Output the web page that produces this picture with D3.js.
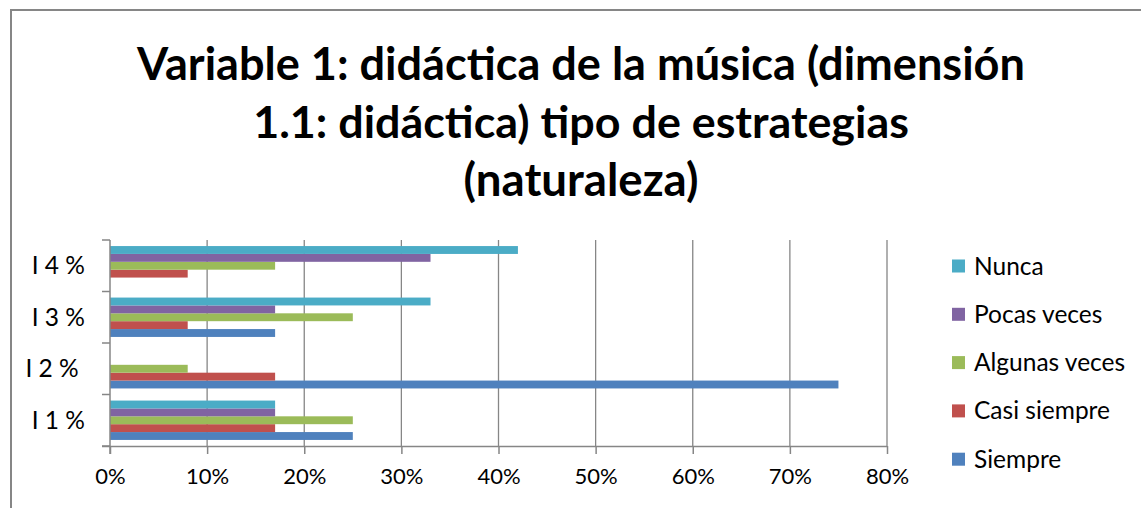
<!DOCTYPE html>
<html>
<head>
<meta charset="utf-8">
<script src="https://cdn.jsdelivr.net/npm/d3@7"></script>
<style>
  html, body { margin: 0; padding: 0; background: #fff; }
  svg { display: block; }
  text { font-family: Lato, "Open Sans", sans-serif; fill: #000; }
</style>
</head>
<body>
<svg id="chart" width="1141" height="508"></svg>
<script>
const categories = ["I 1 %", "I 2 % ", "I 3 %", "I 4 %"];
const seriesNames = ["Siempre", "Casi siempre", "Algunas veces", "Pocas veces", "Nunca"];
const seriesColors = ["#4F81BD", "#C0504D", "#9BBB59", "#8064A2", "#4BACC6"];
const siempre     = [0.25, 0.75, 0.17, 0.00];
const casiSiempre = [0.17, 0.17, 0.08, 0.08];
const algunasVeces= [0.25, 0.08, 0.25, 0.17];
const pocasVeces  = [0.17, 0.00, 0.17, 0.33];
const nunca       = [0.17, 0.00, 0.33, 0.42];
const seriesValues = [siempre, casiSiempre, algunasVeces, pocasVeces, nunca];
const xTicks = [0, 0.1, 0.2, 0.3, 0.4, 0.5, 0.6, 0.7, 0.8];
const titleLines = ["Variable 1: didáctica de la música (dimensión", "1.1: didáctica) tipo de estrategias", "(naturaleza)"];

const svg = d3.select("#chart");
const grey = "#868686";

// outer border (top + left visible)
svg.append("path").attr("d", "M11,508 L11,10 L1141,10")
  .attr("fill", "none").attr("stroke", grey).attr("stroke-width", 2);

// title
const titleWidths = [888, 656, 235];
const titleBase = [80, 138, 196];
titleLines.forEach((t, i) => {
  const el = svg.append("text").attr("x", 581).attr("y", titleBase[i])
    .attr("text-anchor", "middle").attr("font-weight", "bold")
    .attr("font-size", 40).text(t);
  const w = el.node().getComputedTextLength();
  el.attr("font-size", 40 * titleWidths[i] / w);
});

const x = d3.scaleLinear().domain([0, 0.8]).range([110, 887]);
const y = d3.scaleBand().domain(categories).range([446, 240]);
const ySub = d3.scaleBand().domain(d3.range(seriesNames.length).reverse())
  .range([0, y.bandwidth()]).paddingOuter(0.77).paddingInner(0);

// gridlines
svg.append("g").selectAll("line").data(xTicks.slice(1)).join("line")
  .attr("x1", d => x(d)).attr("x2", d => x(d))
  .attr("y1", 240).attr("y2", 446)
  .attr("stroke", grey).attr("stroke-width", 1.3);

// bars
const groups = svg.append("g").selectAll("g").data(seriesNames).join("g")
  .attr("fill", (d, i) => seriesColors[i]);
groups.each(function(name, si) {
  d3.select(this).selectAll("rect").data(categories).join("rect")
    .attr("x", x(0))
    .attr("y", c => y(c) + ySub(si))
    .attr("height", ySub.bandwidth())
    .attr("width", (c, ci) => x(seriesValues[si][ci]) - x(0));
});

// x axis
const xAxis = d3.axisBottom(x).tickValues(xTicks).tickFormat(d3.format(".0%"))
  .tickSize(8).tickPadding(14);
const gx = svg.append("g").attr("transform", "translate(0,446)").call(xAxis);
gx.select(".domain").attr("stroke", grey).attr("stroke-width", 1.5)
  .attr("d", "M102,0.5H887");
gx.selectAll(".tick line").attr("stroke", grey).attr("stroke-width", 1.5);
gx.selectAll("text").attr("font-size", 22).attr("font-family", "Lato");

// y axis
const gy = svg.append("g").attr("transform", "translate(110,0)");
gy.append("line").attr("x1", 0).attr("x2", 0).attr("y1", 240).attr("y2", 454)
  .attr("stroke", grey).attr("stroke-width", 1.5);
const boundaries = categories.map(c => y(c)).concat([y(categories[0]) + y.bandwidth()]);
gy.selectAll("line.tk").data(boundaries).join("line").attr("class", "tk")
  .attr("x1", -8).attr("x2", 0).attr("y1", d => d).attr("y2", d => d)
  .attr("stroke", grey).attr("stroke-width", 1.5);
gy.selectAll("text").data(categories).join("text")
  .attr("x", -25).attr("y", c => y(c) + y.bandwidth() / 2)
  .attr("dy", "0.35em").attr("text-anchor", "end")
  .attr("font-size", 24.5).style("white-space", "pre").text(c => c);

// legend
const legendOrder = d3.range(seriesNames.length).reverse();
const lg = svg.append("g").selectAll("g").data(legendOrder).join("g")
  .attr("transform", (d, i) => `translate(952,${266 + i * 48.3})`);
lg.append("rect").attr("x", 0).attr("y", -6.5).attr("width", 13).attr("height", 13)
  .attr("fill", d => seriesColors[d]);
lg.append("text").attr("x", 22).attr("dy", "0.35em").attr("font-size", 24.5)
  .text(d => seriesNames[d]);
</script>
</body>
</html>
